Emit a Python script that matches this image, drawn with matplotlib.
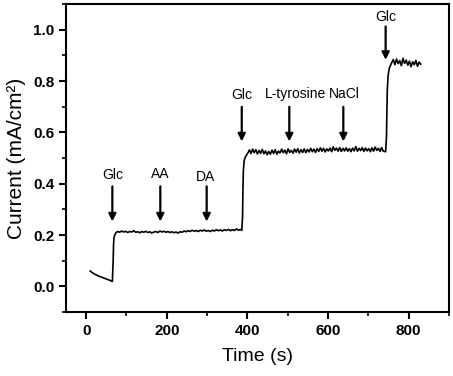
import matplotlib
matplotlib.use("Agg")
import matplotlib.pyplot as plt
from matplotlib.ticker import MultipleLocator, FormatStrFormatter

plt.rcParams["font.family"] = ["Liberation Sans", "DejaVu Sans"]

# Baseline decay before the first glucose addition
seg0_t = [10, 15, 20, 25, 30, 35, 40, 45, 50, 55, 60, 65]
seg0_i = [0.060, 0.054, 0.049, 0.045, 0.041, 0.038, 0.035, 0.032, 0.029, 0.026, 0.023, 0.019]

rise1_t = [67, 68, 69, 71, 73, 76]
rise1_i = [0.10, 0.165, 0.19, 0.200, 0.207, 0.212]

plat1_t = list(range(78, 384, 5))
plat1_i = [
    0.214, 0.211, 0.216, 0.212, 0.215, 0.210, 0.214, 0.212, 0.217, 0.211,
    0.213, 0.209, 0.214, 0.211, 0.215, 0.210, 0.213, 0.208, 0.212, 0.214,
    0.210, 0.216, 0.212, 0.215, 0.211, 0.214, 0.210, 0.213, 0.209, 0.212,
    0.208, 0.213, 0.211, 0.216, 0.213, 0.217, 0.214, 0.219, 0.215, 0.218,
    0.214, 0.219, 0.216, 0.220, 0.215, 0.218, 0.214, 0.219, 0.216, 0.221,
    0.217, 0.220, 0.216, 0.221, 0.218, 0.222, 0.217, 0.221, 0.218, 0.224,
    0.219, 0.222,
]

rise2_t = [386, 388, 389, 390, 392, 395, 399, 402]
rise2_i = [0.218, 0.27, 0.38, 0.45, 0.49, 0.505, 0.515, 0.522]

plat2_t = list(range(405, 741, 4))
plat2_i = [
    0.532, 0.518, 0.535, 0.521, 0.533, 0.516, 0.530, 0.519, 0.534, 0.517,
    0.528, 0.513, 0.526, 0.515, 0.531, 0.518, 0.533, 0.515, 0.527, 0.520,
    0.535, 0.521, 0.531, 0.517, 0.536, 0.522, 0.530, 0.519, 0.535, 0.523,
    0.537, 0.520, 0.533, 0.522, 0.536, 0.521, 0.534, 0.524, 0.538, 0.525,
    0.535, 0.522, 0.537, 0.526, 0.540, 0.527, 0.538, 0.524, 0.536, 0.528,
    0.539, 0.525, 0.544, 0.530, 0.539, 0.527, 0.541, 0.526, 0.538, 0.528,
    0.540, 0.527, 0.537, 0.525, 0.539, 0.528, 0.545, 0.527, 0.538, 0.529,
    0.541, 0.526, 0.539, 0.528, 0.537, 0.525, 0.540, 0.527, 0.543, 0.530,
    0.538, 0.526, 0.541, 0.527,
]

rise3_t = [743, 745, 746, 747, 749, 752, 756]
rise3_i = [0.525, 0.58, 0.68, 0.76, 0.82, 0.85, 0.865]

plat3_t = list(range(758, 831, 4))
plat3_i = [0.872, 0.884, 0.864, 0.886, 0.868, 0.880, 0.860, 0.889, 0.869, 0.882,
           0.862, 0.878, 0.856, 0.875, 0.864, 0.881, 0.858, 0.874, 0.866]

# Additions: label, time, arrow top, arrow tip, label position
add_labels = ["Glc", "AA", "DA", "Glc", "L-tyrosine", "NaCl", "Glc"]
add_times = [65, 184, 299, 386, 504, 638, 743]
arrow_top = [0.39, 0.39, 0.39, 0.70, 0.70, 0.70, 1.013]
arrow_tip = [0.253, 0.253, 0.253, 0.565, 0.565, 0.565, 0.883]
label_x = [65, 184, 297, 386, 520, 641, 743]
label_y = [0.435, 0.44, 0.425, 0.747, 0.75, 0.75, 1.05]

time = seg0_t + rise1_t + plat1_t + rise2_t + plat2_t + rise3_t + plat3_t
current = seg0_i + rise1_i + plat1_i + rise2_i + plat2_i + rise3_i + plat3_i

fig = plt.figure(figsize=(4.53, 3.76), dpi=100)
ax = fig.add_axes([0.1457, 0.170, 0.8453, 0.819])

ax.plot(time, current, color="black", lw=1.2)

for t, top, tip in zip(add_times, arrow_top, arrow_tip):
    ax.annotate("", xy=(t, tip), xytext=(t, top),
                arrowprops=dict(arrowstyle="-|>", color="black", lw=1.6,
                                mutation_scale=11, shrinkA=0, shrinkB=0))
for lab, lx, ly in zip(add_labels, label_x, label_y):
    ax.text(lx, ly, lab, ha="center", va="center", fontsize=10)

ax.set_xlim(-50, 900)
ax.set_ylim(-0.1, 1.1)
ax.xaxis.set_major_locator(MultipleLocator(200))
ax.xaxis.set_minor_locator(MultipleLocator(100))
ax.yaxis.set_major_locator(MultipleLocator(0.2))
ax.yaxis.set_minor_locator(MultipleLocator(0.1))
ax.yaxis.set_major_formatter(FormatStrFormatter("%.1f"))

for s in ax.spines.values():
    s.set_linewidth(1.5)
ax.tick_params(which="major", direction="out", length=5, width=1.5, labelsize=11)
ax.tick_params(which="minor", direction="out", length=3, width=1.2)
for lbl in ax.get_xticklabels() + ax.get_yticklabels():
    lbl.set_fontweight("bold")

ax.set_xlabel("Time (s)", fontsize=14, labelpad=7)
ax.set_ylabel("Current (mA/cm²)", fontsize=15, labelpad=5)

fig.savefig("out.png", dpi=100)
